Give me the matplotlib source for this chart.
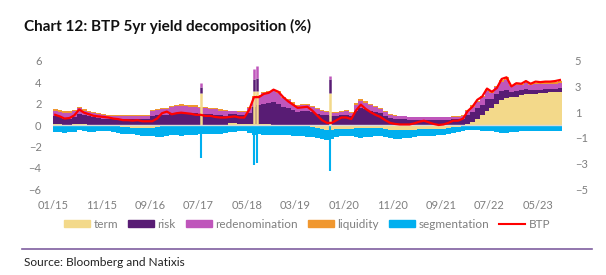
import numpy as np
import pandas as pd
import matplotlib
matplotlib.use("Agg")
import matplotlib.pyplot as plt
import matplotlib.dates as mdates
from matplotlib.patches import Patch
from matplotlib.lines import Line2D

plt.rcParams['font.family'] = ['Lato', 'DejaVu Sans']

# --- Data (monthly, Jan 2015 - Sep 2023) ---------------------------------------------------------------------------
months = pd.date_range('2015-01-01', periods=105, freq='MS')

term = [0.05, 0.05, 0.0, 0.0, 0.05, 0.1, 0.05, 0.0, 0.0, 0.0, -0.05, -0.05,
        -0.05, -0.1, -0.15, -0.2, -0.25, -0.3, -0.3, -0.3, -0.25, -0.2, -0.1, -0.05,
        -0.05, -0.05, -0.05, -0.05, -0.05, -0.05, -0.05, -0.05, -0.05, -0.05, -0.05, 0.0,
        0.15, 0.15, 0.1, 0.1, 0.05, 0.05, 0.1, 0.1, 0.05, 0.0, -0.05, -0.05,
        -0.05, -0.1, -0.1, -0.1, -0.1, -0.15, -0.25, -0.4, -0.45, -0.45, -0.4, -0.35,
        -0.35, -0.35, -0.3, -0.3, -0.3, -0.3, -0.3, -0.3, -0.35, -0.45, -0.5, -0.5,
        -0.5, -0.5, -0.45, -0.4, -0.4, -0.4, -0.4, -0.4, -0.35, -0.3, -0.2, -0.15,
        -0.05, 0.1, 0.3, 0.55, 0.9, 1.3, 1.55, 2.0, 2.35, 2.5, 2.6, 2.65,
        2.8, 2.85, 2.85, 2.9, 2.95, 3.0, 3.05, 3.05, 3.1]
risk = [0.75, 0.7, 0.6, 0.55, 0.7, 0.95, 0.85, 0.8, 0.7, 0.65, 0.6, 0.55,
        0.55, 0.55, 0.55, 0.55, 0.55, 0.55, 0.55, 0.55, 0.85, 0.9, 0.95, 0.95,
        1.05, 1.1, 1.15, 1.15, 1.1, 1.1, 1.05, 1.0, 1.0, 0.95, 0.9, 0.85,
        0.85, 0.85, 0.85, 0.85, 1.1, 1.6, 1.75, 1.9, 2.0, 2.1, 2.0, 1.7,
        1.55, 1.4, 1.25, 1.3, 1.35, 1.2, 1.05, 0.95, 0.9, 0.85, 0.85, 0.9,
        0.95, 0.85, 1.3, 1.6, 1.5, 1.35, 1.2, 1.1, 0.85, 0.65, 0.6, 0.55,
        0.55, 0.5, 0.5, 0.5, 0.5, 0.5, 0.5, 0.5, 0.5, 0.5, 0.55, 0.55,
        0.6, 0.8, 0.9, 1.0, 1.0, 1.1, 0.85, 0.85, 0.85, 0.8, 0.5, 0.55,
        0.45, 0.5, 0.45, 0.4, 0.35, 0.35, 0.35, 0.35, 0.35]
redenomination = [0.55, 0.5, 0.55, 0.6, 0.55, 0.5, 0.45, 0.4, 0.4, 0.35, 0.3, 0.3,
                  0.3, 0.3, 0.3, 0.3, 0.3, 0.3, 0.3, 0.3, 0.45, 0.5, 0.5, 0.55,
                  0.6, 0.65, 0.65, 0.6, 0.6, 0.6, 0.55, 0.55, 0.5, 0.5, 0.45, 0.45,
                  0.3, 0.3, 0.3, 0.3, 0.45, 0.9, 0.85, 0.95, 1.0, 1.05, 1.0, 0.85,
                  0.75, 0.6, 0.5, 0.55, 0.55, 0.5, 0.45, 0.4, 0.3, 0.28, 0.28, 0.35,
                  0.35, 0.3, 0.55, 0.65, 0.55, 0.5, 0.45, 0.4, 0.35, 0.3, 0.25, 0.25,
                  0.25, 0.22, 0.2, 0.2, 0.2, 0.2, 0.2, 0.2, 0.2, 0.2, 0.2, 0.22,
                  0.25, 0.4, 0.5, 0.6, 0.7, 0.8, 0.6, 0.65, 0.8, 0.9, 0.5, 0.55,
                  0.45, 0.6, 0.45, 0.5, 0.5, 0.5, 0.45, 0.45, 0.5]
liquidity = [0.15, 0.15, 0.12, 0.12, 0.12, 0.12, 0.1, 0.1, 0.1, 0.08, 0.08, 0.08,
             0.05, 0.05, 0.05, 0.05, 0.05, 0.05, 0.05, 0.05, 0.1, 0.1, 0.1, 0.1,
             0.12, 0.12, 0.12, 0.12, 0.12, 0.12, 0.12, 0.12, 0.1, 0.1, 0.1, 0.1,
             0.05, 0.05, 0.05, 0.05, 0.1, 0.15, 0.1, 0.1, 0.15, 0.15, 0.15, 0.1,
             0.1, 0.1, 0.1, 0.1, 0.1, 0.1, 0.08, 0.08, 0.08, 0.08, 0.08, 0.08,
             0.08, 0.08, 0.2, 0.2, 0.15, 0.15, 0.12, 0.1, 0.1, 0.08, 0.08, 0.08,
             0.08, 0.06, 0.06, 0.06, 0.06, 0.06, 0.06, 0.06, 0.06, 0.06, 0.06, 0.06,
             0.07, 0.1, 0.12, 0.12, 0.15, 0.15, 0.15, 0.15, 0.2, 0.25, 0.15, 0.2,
             0.15, 0.15, 0.15, 0.15, 0.15, 0.15, 0.15, 0.15, 0.15]
segmentation = [-0.65, -0.65, -0.7, -0.65, -0.65, -0.5, -0.6, -0.65, -0.65, -0.6, -0.55, -0.55,
                -0.6, -0.65, -0.65, -0.6, -0.55, -0.6, -0.7, -0.75, -0.8, -0.9, -1.0, -1.0,
                -0.9, -0.9, -0.95, -0.9, -0.85, -0.85, -0.8, -0.8, -0.8, -0.75, -0.75, -0.7,
                -0.65, -0.65, -0.6, -0.6, -0.75, -0.95, -0.85, -0.9, -0.9, -0.95, -0.9, -0.85,
                -0.85, -0.9, -0.95, -0.95, -1.0, -1.0, -0.95, -0.95, -0.95, -0.9, -0.75, -0.7,
                -0.7, -0.7, -0.85, -0.9, -0.85, -0.8, -0.75, -0.75, -0.75, -0.75, -0.8, -0.8,
                -0.75, -0.7, -0.65, -0.6, -0.6, -0.6, -0.6, -0.55, -0.55, -0.55, -0.55, -0.5,
                -0.5, -0.45, -0.45, -0.5, -0.55, -0.6, -0.6, -0.65, -0.7, -0.7, -0.65, -0.65,
                -0.6, -0.6, -0.55, -0.55, -0.55, -0.55, -0.55, -0.55, -0.55]
btp = [0.95, 0.8, 0.6, 0.65, 0.9, 1.45, 1.15, 1.0, 0.85, 0.8, 0.75, 0.7,
       0.6, 0.55, 0.45, 0.45, 0.4, 0.45, 0.35, 0.35, 0.35, 0.6, 1.1, 1.25,
       1.0, 1.1, 1.15, 1.1, 1.05, 0.95, 0.95, 0.85, 0.85, 0.75, 0.7, 0.7,
       0.75, 0.8, 0.7, 0.7, 1.4, 2.6, 2.6, 2.9, 3.0, 3.3, 3.1, 2.6,
       2.2, 1.9, 1.6, 1.65, 1.7, 1.35, 0.9, 0.45, 0.2, 0.2, 0.45, 0.7,
       0.7, 0.55, 1.35, 1.9, 1.5, 1.2, 0.95, 0.75, 0.45, 0.2, 0.1, 0.05,
       0.05, 0.05, 0.15, 0.3, 0.4, 0.25, 0.1, 0.0, 0.05, 0.2, 0.4, 0.4,
       0.6, 1.3, 1.7, 2.35, 2.65, 3.4, 3.1, 3.45, 4.3, 4.45, 3.6, 3.9,
       3.85, 4.1, 3.85, 4.05, 4.0, 4.05, 4.05, 4.1, 4.2]

# one-day outliers visible as thin spikes
spike_dates = pd.to_datetime(['2017-07-21', '2018-06-17', '2018-07-05', '2019-10-04'])
spike_term = [3.0, 3.2, 3.2, 3.0]
spike_risk = [0.5, 1.05, 1.2, 1.25]
spike_redenom = [0.4, 0.95, 1.1, 0.35]
spike_seg = [-3.05, -3.7, -3.5, -4.3]

tick_dates = pd.date_range('2015-01-01', periods=11, freq='10MS')

# --- Colours -------------------------------------------------------------------------------------------------------
c_term = '#F3D98A'
c_risk = '#581C74'
c_red = '#BF56BB'
c_liq = '#F0972F'
c_seg = '#00AFEF'
c_btp = '#FF0000'
grey = '#7F7F7F'

# --- Plot ----------------------------------------------------------------------------------------------------------
fig = plt.figure(figsize=(6.06, 2.75), dpi=100)
ax = fig.add_axes([52.7 / 606, 1 - 189.3 / 275, 509.6 / 606, 128.6 / 275])

x = mdates.date2num(months)
ends = mdates.date2num(months + pd.offsets.MonthBegin(1))
w = ends - x

term_a = np.array(term)
pos_term = np.clip(term_a, 0, None)
neg_term = np.clip(term_a, None, 0)
risk_a = np.array(risk)
red_a = np.array(redenomination)
liq_a = np.array(liquidity)
seg_a = np.array(segmentation)

ax.bar(x, pos_term, width=w, align='edge', color=c_term, linewidth=0)
ax.bar(x, risk_a, width=w, bottom=pos_term, align='edge', color=c_risk, linewidth=0)
ax.bar(x, red_a, width=w, bottom=pos_term + risk_a, align='edge', color=c_red, linewidth=0)
ax.bar(x, liq_a, width=w, bottom=pos_term + risk_a + red_a, align='edge', color=c_liq, linewidth=0)
ax.bar(x, neg_term, width=w, align='edge', color=c_term, linewidth=0)
ax.bar(x, seg_a, width=w, bottom=neg_term, align='edge', color=c_seg, linewidth=0)

# spikes, drawn as short vertical segments
sx = mdates.date2num(spike_dates)
st = np.array(spike_term)
sr = np.array(spike_risk)
sd = np.array(spike_redenom)
ax.vlines(sx, 0, st, color=c_term, lw=1.8, zorder=2, capstyle='butt')
ax.vlines(sx, st, st + sr, color=c_risk, lw=1.8, zorder=2, capstyle='butt')
ax.vlines(sx, st + sr, st + sr + sd, color=c_red, lw=1.8, zorder=2, capstyle='butt')
ax.vlines(sx, 0, spike_seg, color=c_seg, lw=1.5, zorder=2, capstyle='butt')

ax.axhline(0, color='#D9D9D9', lw=1, zorder=3)
ax.plot(x + w / 2, btp, color=c_btp, lw=1.6, zorder=4)

ax.set_xlim(x[0], ends[-1])
ax.set_ylim(-6, 6)
ax.set_yticks([6, 4, 2, 0, -2, -4, -6])
ax.set_xticks(mdates.date2num(tick_dates))
ax.set_xticklabels([d.strftime('%m/%y') for d in tick_dates])
ax.tick_params(length=0, labelsize=8, labelcolor=grey, pad=8)
for s in ax.spines.values():
    s.set_visible(False)

ax2 = ax.twinx()
ax2.set_ylim(-5, 5)
ax2.set_yticks([5, 3, 1, -1, -3, -5])
ax2.tick_params(length=0, labelsize=8, labelcolor=grey, pad=9)
for s in ax2.spines.values():
    s.set_visible(False)

# legend
handles = [Patch(color=c_term), Patch(color=c_risk), Patch(color=c_red),
           Patch(color=c_liq), Patch(color=c_seg), Line2D([], [], color=c_btp, lw=1.5)]
labels = ['term', 'risk', 'redenomination', 'liquidity', 'segmentation', 'BTP']
leg = fig.legend(handles, labels, loc='center', bbox_to_anchor=(307 / 606, 1 - 224 / 275), ncol=6,
                 frameon=False, fontsize=8.5, handlelength=2.2, handleheight=0.6,
                 handletextpad=0.3, columnspacing=0.85, borderaxespad=0)
for t in leg.get_texts():
    t.set_color(grey)

fig.text(24 / 606, 1 - 26 / 275, 'Chart 12: BTP 5yr yield decomposition (%)', fontsize=11,
         fontweight='bold', ha='left', va='center', color='#111111')
fig.add_artist(Line2D([22 / 606, 592 / 606], [1 - 249 / 275] * 2, color='#7F5FA0', lw=1.2))
fig.text(24 / 606, 1 - 262 / 275, 'Source: Bloomberg and Natixis', fontsize=8.6,
         ha='left', va='center', color='#222222')

fig.savefig('out.png', dpi=100)
